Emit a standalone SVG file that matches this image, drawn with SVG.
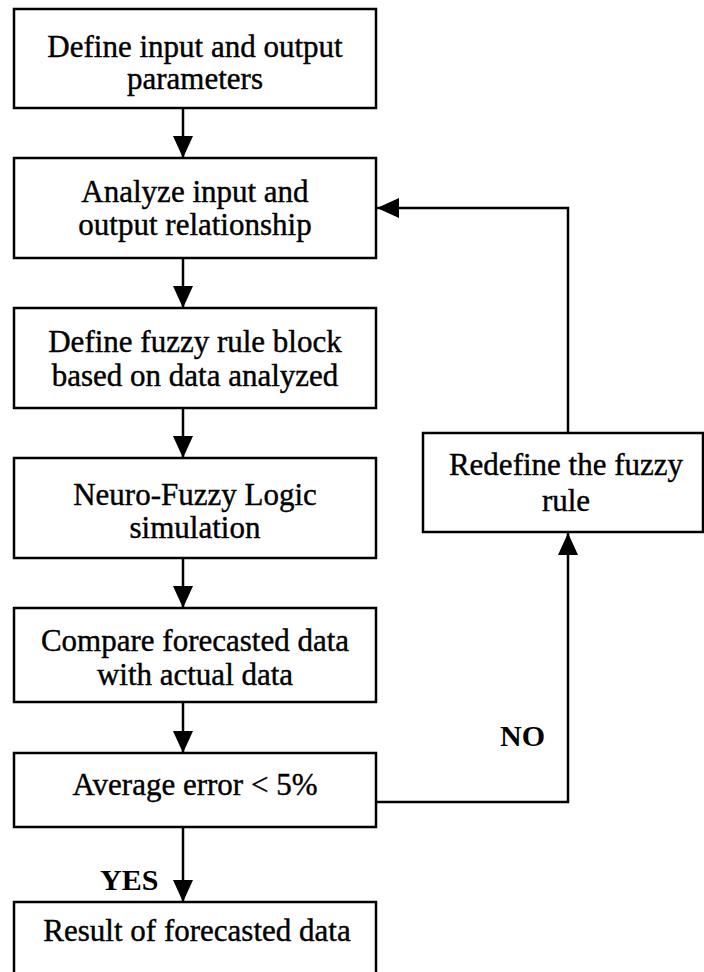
<svg xmlns="http://www.w3.org/2000/svg" width="704" height="972" viewBox="0 0 704 972">
  <style>
    .box { fill: #ffffff; stroke: #000000; stroke-width: 2.5; }
    .lbl { font-family: "Liberation Serif", "Times New Roman", serif; font-size: 31px; fill: #000000; stroke: #000000; stroke-width: 0.4; text-anchor: middle; }
    .tag { font-family: "Liberation Serif", "Times New Roman", serif; font-size: 30px; font-weight: bold; fill: #000000; }
    .conn { fill: none; stroke: #000000; stroke-width: 2.5; }
  </style>
  <defs>
    <marker id="arrow" viewBox="0 0 22 20" refX="22" refY="10" markerWidth="22" markerHeight="20" markerUnits="userSpaceOnUse" orient="auto">
      <path d="M0,0 L22,10 L0,20 z" fill="#000000"/>
    </marker>
  </defs>
  <rect width="704" height="972" fill="#ffffff"/>

  <g id="connectors">
    <line class="conn" x1="183" y1="108" x2="183" y2="158" marker-end="url(#arrow)"/>
    <line class="conn" x1="183" y1="258" x2="183" y2="308" marker-end="url(#arrow)"/>
    <line class="conn" x1="183" y1="408" x2="183" y2="458" marker-end="url(#arrow)"/>
    <line class="conn" x1="183" y1="558" x2="183" y2="608" marker-end="url(#arrow)"/>
    <line class="conn" x1="183" y1="702" x2="183" y2="753" marker-end="url(#arrow)"/>
    <line class="conn" x1="183" y1="827" x2="183" y2="902" marker-end="url(#arrow)"/>
    <polyline class="conn" points="376,802 568,802 568,533" marker-end="url(#arrow)"/>
    <polyline class="conn" points="568,433 568,208 377,208" marker-end="url(#arrow)"/>
    <text class="tag" x="100" y="890">YES</text>
    <text class="tag" x="500" y="746">NO</text>
  </g>

  <g id="n1">
    <rect class="box" x="14" y="9" width="362" height="99"/>
    <text class="lbl" x="195" y="57">Define input and output</text>
    <text class="lbl" x="195" y="89">parameters</text>
  </g>
  <g id="n2">
    <rect class="box" x="14" y="158" width="362" height="100"/>
    <text class="lbl" x="195" y="202">Analyze input and</text>
    <text class="lbl" x="195" y="235">output relationship</text>
  </g>
  <g id="n3">
    <rect class="box" x="14" y="308" width="362" height="100"/>
    <text class="lbl" x="195" y="352">Define fuzzy rule block</text>
    <text class="lbl" x="195" y="386">based on data analyzed</text>
  </g>
  <g id="n4">
    <rect class="box" x="14" y="458" width="362" height="100"/>
    <text class="lbl" x="195" y="505">Neuro-Fuzzy Logic</text>
    <text class="lbl" x="195" y="538">simulation</text>
  </g>
  <g id="n5">
    <rect class="box" x="14" y="608" width="362" height="94"/>
    <text class="lbl" x="195" y="651">Compare forecasted data</text>
    <text class="lbl" x="195" y="685">with actual data</text>
  </g>
  <g id="n6">
    <rect class="box" x="14" y="753" width="362" height="74"/>
    <text class="lbl" x="195" y="795">Average error &lt; 5%</text>
  </g>
  <g id="n7">
    <rect class="box" x="14" y="902" width="362" height="90"/>
    <text class="lbl" x="197" y="941">Result of forecasted data</text>
  </g>
  <g id="n8">
    <rect class="box" x="423" y="433" width="280" height="99"/>
    <text class="lbl" x="566" y="475">Redefine the fuzzy</text>
    <text class="lbl" x="566" y="511">rule</text>
  </g>
</svg>
